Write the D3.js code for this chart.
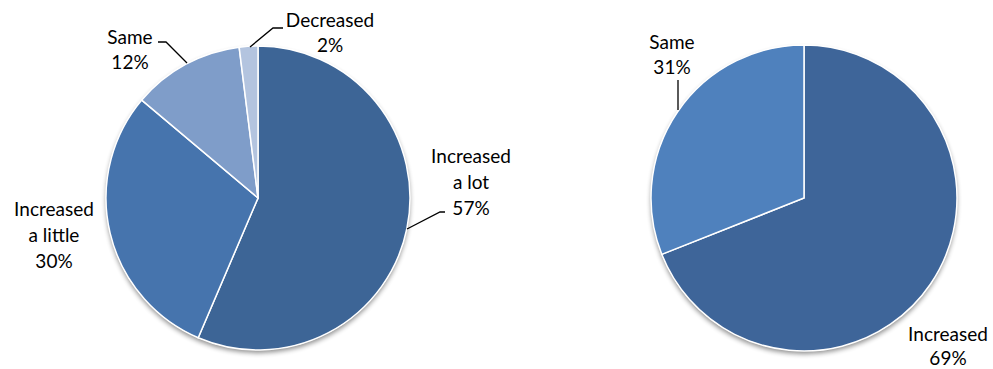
<!DOCTYPE html>
<html><head><meta charset="utf-8">
<script src="https://cdn.jsdelivr.net/npm/d3@7/dist/d3.min.js"></script>
<style>body{margin:0;background:#fff}svg{display:block}</style>
</head><body>
<svg id="chart" width="993" height="369"></svg>
<script>
// Left pie data
const leftCategories = ["Increased a lot", "Increased a little", "Same", "Decreased"];
const leftValues = [57, 30, 12, 2];
const leftLabels = [["Increased", "a lot", "57%"], ["Increased", "a little", "30%"], ["Same", "12%"], ["Decreased", "2%"]];
const leftColors = ["#3d6596", "#4674ad", "#7f9dc9", "#b3c4df"];
// Right pie data
const rightCategories = ["Increased", "Same"];
const rightValues = [69, 31];
const rightLabels = [["Increased", "69%"], ["Same", "31%"]];
const rightColors = ["#3e6599", "#4f81bd"];

const svg = d3.select("#chart");
const defs = svg.append("defs");
const f = defs.append("filter").attr("id", "sh").attr("x", "-20%").attr("y", "-20%").attr("width", "140%").attr("height", "140%");
f.append("feGaussianBlur").attr("in", "SourceAlpha").attr("stdDeviation", 2.5);
f.append("feOffset").attr("dx", 0).attr("dy", 3).attr("result", "ob");
f.append("feComponentTransfer").append("feFuncA").attr("type", "linear").attr("slope", 0.45);
const m = f.append("feMerge");
m.append("feMergeNode");
m.append("feMergeNode").attr("in", "SourceGraphic");

function drawPie(cx, cy, r, values, colors, cats) {
  const pie = d3.pie().sort(null).value(d => d)(values);
  const arc = d3.arc().innerRadius(0).outerRadius(r);
  const g = svg.append("g").attr("transform", `translate(${cx},${cy})`);
  g.append("circle").attr("r", r).attr("fill", "#fff").attr("filter", "url(#sh)");
  g.selectAll("path").data(pie).join("path")
    .attr("d", arc).attr("fill", (d, i) => colors[i])
    .attr("stroke", "#fff").attr("stroke-width", 1.5)
    .attr("data-cat", (d, i) => cats[i]);
  return {pie, arc};
}

drawPie(258, 198, 152, leftValues, leftColors, leftCategories);
drawPie(804, 198, 153, rightValues, rightColors, rightCategories);

function label(x, y, lines, gap) {
  const t = svg.append("text").attr("x", x).attr("y", y)
    .attr("text-anchor", "middle")
    .attr("font-family", "Lato, 'Open Sans', sans-serif").attr("font-size", 19).attr("fill", "#000");
  lines.forEach((s, i) => t.append("tspan").attr("x", x).attr("dy", i === 0 ? 0 : (gap || 26)).text(s));
}
const line = pts => svg.append("path").attr("d", d3.line()(pts)).attr("fill", "none").attr("stroke", "#000").attr("stroke-width", 1.3);

label(471, 163, leftLabels[0]);
label(54, 216, leftLabels[1]);
label(130, 44, leftLabels[2], 25);
label(330, 27, leftLabels[3], 25);
line([[445, 212], [440, 212], [407, 229]]);
line([[158, 42], [166, 42], [187, 63]]);
line([[283, 28], [273, 28], [250, 47]]);

label(948, 341, rightLabels[0], 24);
label(672, 49, rightLabels[1], 25);
line([[678, 80], [678, 110]]);
</script>
</body></html>
